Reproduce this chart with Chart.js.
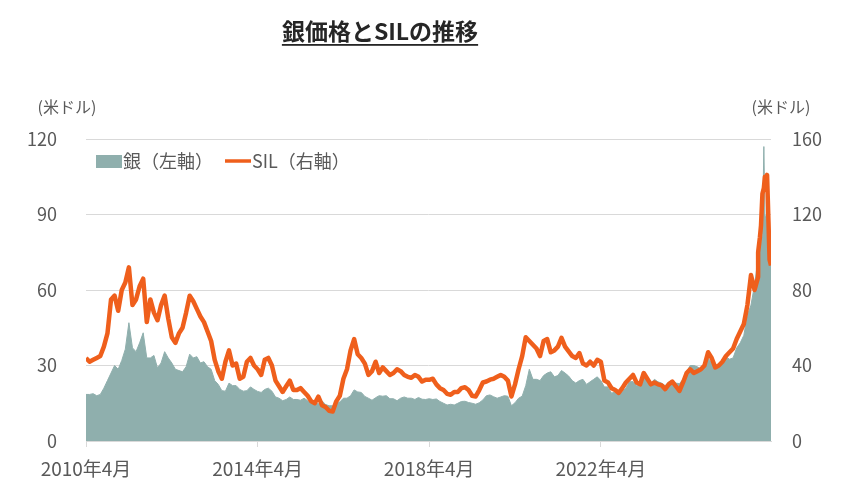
<!DOCTYPE html>
<html lang="ja">
<head>
    <meta charset="UTF-8">
    <title>銀価格とSILの推移</title>
    <script src="https://cdn.jsdelivr.net/npm/chart.js"></script>
    <style>
        body {
            margin: 0;
            background-color: #ffffff;
        }
        .chart-box {
            width: 850px;
            height: 500px;
        }
    </style>
</head>
<body>
    <div class="chart-box">
        <canvas id="silverChart" width="850" height="500"></canvas>
    </div>

    <script>
        // months counted from 2010年4月 (0) ; one value per month up to 2025年11月 (187)
        const tickMonths = [0, 48, 96, 144];
        const tickLabels = ['2010年4月', '2014年4月', '2018年4月', '2022年4月'];

        // 銀 (米ドル, 左軸)
        const silverMonthly = [
            18.5, 18.5, 18.8, 18, 18.5, 21, 24, 27, 30,
            28.5, 32, 36.5, 47, 37, 35.5, 39, 43, 33, 33, 34, 29,
            31, 35.5, 33, 31, 28.5, 28, 27.5, 29.5, 34.5, 33, 33.5, 31,
            31.5, 29.5, 28.5, 24, 22.5, 20, 19.8, 23, 22, 22, 20.5, 19.8,
            20, 21.5, 20.5, 19.7, 19.3, 20.5, 21, 19.8, 17.5, 17, 16, 16.5,
            17.5, 16.5, 16.5, 16.2, 17, 16, 15, 15, 14.8, 16, 14.5, 14,
            14, 15.2, 15.5, 17, 17, 18, 20.3, 19.5, 19.3, 17.7, 17, 16.2,
            17.2, 18, 17.8, 18, 16.8, 16.8, 16, 17, 17.5, 17, 17, 16.5,
            17.3, 16.6, 16.5, 16.8, 16.5, 16.7, 15.7, 15, 14.3, 14.6, 14.3, 15,
            15.7, 15.8, 15.3, 15, 14.6, 15.2, 16.3, 18, 18.3, 17.6, 17, 17.5,
            18, 17.8, 14, 15.2, 17, 17.8, 22, 28.5, 24.5, 24.5, 24, 26,
            27, 27.5, 25.5, 26, 28, 27, 25.8, 24, 23, 24, 24.5, 22.5,
            23.5, 24.5, 25.5, 24, 21.5, 21.5, 19, 19.5, 19, 19.5, 21, 23.5,
            23.6, 22, 22, 25, 24.5, 23, 24.5, 23.5, 23, 22, 23.5, 24,
            23, 22.8, 24.5, 27.5, 30, 30, 29.5, 28.5, 30.5, 33, 31, 29.5,
            30.5, 32.5, 33.5, 32.5, 33, 37, 39, 42, 50, 54, 62
        ];

        // SIL (米ドル, 右軸)
        const silMonthly = [
            44, 42, 43, 44, 45, 50, 57, 75, 77,
            69, 80, 84, 92, 72, 75, 82, 86, 63, 75, 68, 64,
            72, 77, 65, 55, 52, 57, 60, 68, 77, 74, 70, 66,
            63, 58, 53, 43, 37, 33, 42, 48, 40, 41, 33, 34,
            42, 44, 40, 38, 35, 43, 44, 40, 32, 29, 26, 29,
            32, 27, 27, 28, 26, 24, 21, 20, 23.5, 19, 18, 16,
            15.6, 21, 24, 33, 38, 48, 54, 46, 44, 41, 35, 37,
            42, 36, 39, 37, 35, 36, 38, 37, 35, 34, 33.5, 35,
            34, 31.5, 32.5, 32.4, 33, 30, 28, 27, 25, 24.5, 26, 26,
            28, 28.5, 27, 24, 23.6, 27, 31, 31.5, 32.5, 33, 34, 35,
            34, 32, 23.6, 30, 38, 45, 55, 53, 51, 49, 45, 53,
            54, 47, 48, 50, 54.6, 50, 47.5, 45, 44, 46.6, 41, 40,
            42, 40, 43, 42, 32, 31, 28, 27, 25.5, 28, 31, 33,
            35, 31, 30, 36, 33, 30, 31, 30, 29.5, 27.5, 30, 31.5,
            29, 26.5, 31, 36, 38, 36, 37, 38, 40, 47, 44, 39,
            40, 42, 45, 47, 49, 54, 58, 62, 72, 88, 80, 87
        ];

        // 2025年12月以降は細かく読む
        const tailMonths = [188, 188.5, 188.8, 189.2, 189.6, 189.9, 190.2, 190.5, 190.9, 191.2, 191.6];
        const silverTail = [73, 76, 79, 82, 117, 90, 88, 92, 84, 75, 71];
        const silTail = [100, 108, 114, 131, 134, 140, 136, 141, 116, 96, 93];

        const titleText = '銀価格とSILの推移';
        const unitText = '(米ドル)';

        function toPoints(monthly, tail) {
            const pts = monthly.map((v, i) => ({ x: i, y: v }));
            tail.forEach((v, i) => pts.push({ x: tailMonths[i], y: v }));
            return pts;
        }

        const jpFont = '"Noto Sans CJK JP", "Noto Sans", sans-serif';
        const grey = '#595959';
        const silverColor = '#8fafad';
        const silColor = '#ef5f1c';

        // title, unit labels and legend drawn on top
        const overlay = {
            id: 'overlay',
            afterDraw(chart) {
                const ctx = chart.ctx;
                ctx.save();
                ctx.textBaseline = 'middle';

                ctx.font = 'bold 23px ' + jpFont;
                ctx.fillStyle = '#262626';
                ctx.textAlign = 'center';
                ctx.fillText(titleText, 380, 31);
                const tw = ctx.measureText(titleText).width;
                ctx.fillRect(380 - tw / 2, 44, tw, 1.8);

                ctx.font = '16px ' + jpFont;
                ctx.fillStyle = grey;
                ctx.textAlign = 'center';
                ctx.fillText(unitText, 67, 107);
                ctx.fillText(unitText, 781, 107);

                // legend
                ctx.font = '18px ' + jpFont;
                ctx.textAlign = 'left';
                ctx.fillStyle = silverColor;
                ctx.fillRect(96, 155, 26, 13);
                ctx.fillStyle = grey;
                ctx.fillText('銀（左軸）', 123, 161);
                ctx.strokeStyle = silColor;
                ctx.lineWidth = 3.5;
                ctx.beginPath();
                ctx.moveTo(225, 161);
                ctx.lineTo(251, 161);
                ctx.stroke();
                ctx.fillText('SIL（右軸）', 252, 161);
                ctx.restore();
            }
        };

        const ctx = document.getElementById('silverChart').getContext('2d');
        new Chart(ctx, {
            type: 'line',
            data: {
                datasets: [
                    {
                        label: 'SIL（右軸）',
                        data: toPoints(silMonthly, silTail),
                        yAxisID: 'y1',
                        borderColor: silColor,
                        borderWidth: 4.5,
                        borderJoinStyle: 'round',
                        pointRadius: 0,
                        tension: 0,
                        fill: false,
                        order: 0
                    },
                    {
                        label: '銀（左軸）',
                        data: toPoints(silverMonthly, silverTail),
                        yAxisID: 'y',
                        borderColor: silverColor,
                        backgroundColor: silverColor,
                        borderWidth: 1,
                        pointRadius: 0,
                        tension: 0,
                        fill: 'origin',
                        order: 1
                    }
                ]
            },
            options: {
                responsive: false,
                animation: false,
                layout: {
                    padding: { top: 139, left: 0, right: 0, bottom: 0 }
                },
                plugins: {
                    legend: { display: false },
                    title: { display: false },
                    tooltip: { enabled: false }
                },
                scales: {
                    x: {
                        type: 'linear',
                        min: 0,
                        max: 191.6,
                        afterBuildTicks: s => { s.ticks = tickMonths.map(v => ({ value: v })); },
                        afterFit: s => { s.height = 59; },
                        ticks: {
                            autoSkip: false,
                            maxRotation: 0,
                            color: grey,
                            font: { family: jpFont, size: 19 },
                            padding: 10,
                            callback: v => tickLabels[tickMonths.indexOf(v)]
                        },
                        grid: {
                            drawOnChartArea: false,
                            drawTicks: true,
                            tickLength: 6,
                            color: '#d9d9d9'
                        },
                        border: { display: true, color: '#d9d9d9' }
                    },
                    y: {
                        position: 'left',
                        min: 0,
                        max: 120,
                        afterFit: s => { s.width = 86; },
                        ticks: {
                            stepSize: 30,
                            color: grey,
                            font: { family: jpFont, size: 18 },
                            padding: 29
                        },
                        grid: { color: '#d9d9d9', drawTicks: false },
                        border: { display: false }
                    },
                    y1: {
                        position: 'right',
                        min: 0,
                        max: 160,
                        afterFit: s => { s.width = 79; },
                        ticks: {
                            stepSize: 40,
                            color: grey,
                            font: { family: jpFont, size: 18 },
                            padding: 21
                        },
                        grid: { drawOnChartArea: false, drawTicks: false },
                        border: { display: false }
                    }
                }
            },
            plugins: [overlay]
        });
    </script>
</body>
</html>
